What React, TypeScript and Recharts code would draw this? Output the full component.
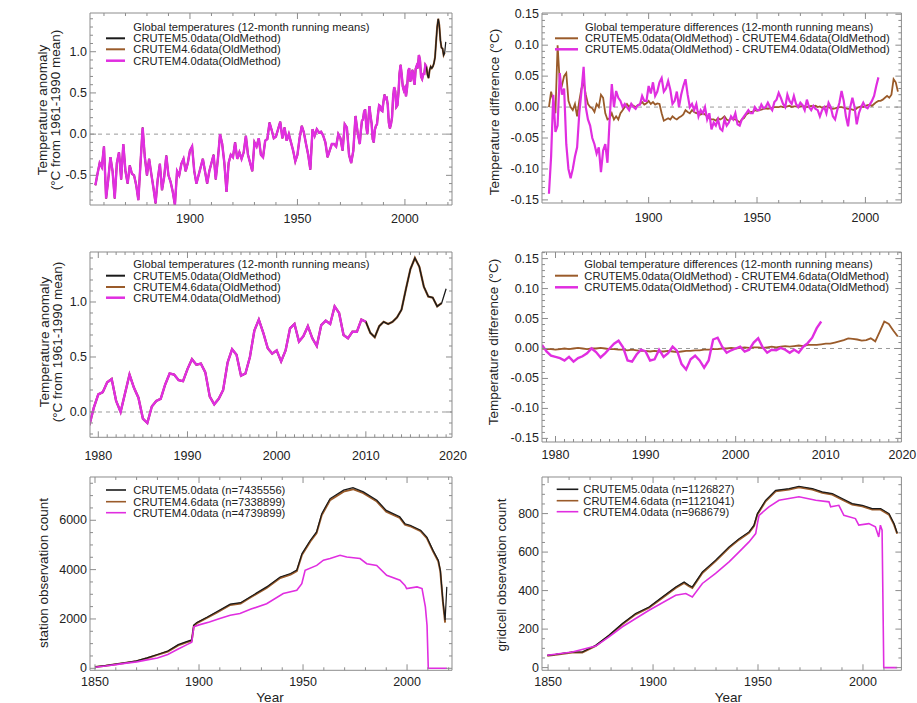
import { LineChart, Line, XAxis, YAxis, ReferenceLine } from "recharts";

const FONT = "'Liberation Sans', Arial, Helvetica, sans-serif";
const FRAME = "#8c8c8c";
const INK = "#222";
const BLACK = "#1a1a1a";
const BROWN = "#9a5b2a";
const MAGENTA = "#e02ee0";

// ---- temperature anomalies (12-month running means, degC vs 1961-1990) ----
// annual readings 1856-1978 (shared by all three datasets at this scale)
const anomEarlyStart = 1856;
const anomEarly = [
  -0.62, -0.48, -0.35, -0.4, -0.15, -0.78, -0.55, -0.28, -0.45, -0.78,
  -0.35, -0.22, -0.55, -0.12, -0.45, -0.6, -0.38, -0.48, -0.5, -0.62,
  -0.8, -0.35, 0.08, -0.28, -0.5, -0.3, -0.48, -0.65, -0.84, -0.55,
  -0.36, -0.68, -0.52, -0.26, -0.5, -0.58, -0.7, -0.86, -0.45, -0.5,
  -0.36, -0.3, -0.45, -0.35, -0.2, -0.15, -0.45, -0.6, -0.5, -0.4,
  -0.3, -0.45, -0.6, -0.45, -0.35, -0.25, -0.55, -0.3, 0.0, -0.12,
  -0.35, -0.7, -0.35, -0.25, -0.28, -0.1, -0.3, -0.22, -0.3, -0.22,
  -0.02, -0.25, -0.35, -0.45, -0.1, -0.15, -0.05, -0.25, -0.28, -0.08,
  -0.06, 0.14, 0.05, -0.05, -0.03, 0.06, 0.15, -0.05, 0.08, -0.08,
  0.0, -0.1, -0.2, -0.33, -0.25, -0.05, 0.1, 0.02, -0.12, -0.25,
  -0.43, 0.06, -0.02, 0.06, 0.02, 0.03, -0.02, -0.1, -0.28, -0.2,
  -0.12, -0.12, -0.15, 0.0, -0.05, -0.2, 0.12, 0.08, -0.25, -0.35,
  -0.2, 0.22, 0.02,
];
// half-year readings 1979.0-2019.0
const anomMidStart = 1979;
const anomMid = [
  -0.12, 0.04, 0.16, 0.18, 0.27, 0.3, 0.1, 0.0, 0.17, 0.34,
  0.22, 0.13, -0.06, -0.1, 0.05, 0.1, 0.12, 0.25, 0.35, 0.34,
  0.29, 0.28, 0.39, 0.48, 0.43, 0.44, 0.36, 0.14, 0.07, 0.12,
  0.2, 0.45, 0.57, 0.52, 0.33, 0.35, 0.5, 0.74, 0.84, 0.72,
  0.58, 0.53, 0.56, 0.46, 0.56, 0.76, 0.8, 0.64, 0.69, 0.78,
  0.67, 0.6, 0.79, 0.83, 0.8, 0.96, 0.9, 0.7, 0.67, 0.73,
  0.73, 0.84, 0.82, 0.72, 0.68, 0.78, 0.82, 0.8, 0.82, 0.86,
  0.93, 1.12, 1.3, 1.4, 1.32, 1.14, 1.05, 1.04, 0.96, 0.99,
  1.12,
];
const anomMidLen40 = 63; // CRUTEM4.0 stops in 2010
const anomMidLen46 = 80;

// ---- differences, annual, top-right panel ----
const diffStart = 1854;
const diff50minus40 = [
  -0.14, -0.08, 0.02, -0.04, -0.03, 0.055, 0.02, 0.03, -0.06, -0.1,
  -0.115, -0.1, -0.08, -0.065, -0.01, 0.025, 0.065, 0.0, -0.02, -0.03,
  -0.05, -0.06, -0.075, -0.065, -0.105, -0.07, -0.06, -0.09, -0.02, 0.037,
  0.0, 0.026, 0.015, 0.01, 0.0, 0.005, 0.0, -0.005, 0.005, 0.0,
  -0.003, 0.003, 0.004, 0.018, 0.01, 0.01, 0.034, 0.022, 0.04, 0.018,
  0.025, 0.04, 0.047, 0.025, 0.03, 0.042, 0.028, 0.005, 0.01, 0.025,
  0.0, 0.02, 0.034, 0.045, 0.02, 0.0, 0.005, -0.005, 0.005, -0.015,
  -0.005, -0.01, 0.0, -0.02, -0.01, -0.036, -0.025, -0.03, -0.02, -0.035,
  -0.038, -0.02, -0.03, -0.025, -0.015, -0.02, -0.01, -0.028, -0.03, -0.02,
  -0.015, -0.01, -0.005, -0.01, -0.01, 0.0, -0.005, -0.005, 0.004, -0.002,
  0.0, 0.007, 0.0, -0.005, 0.008, 0.012, 0.023, 0.015, 0.005, 0.0,
  0.02, 0.01, 0.005, 0.018, 0.005, 0.0, 0.007, 0.003, -0.005, 0.012,
  0.0, -0.005, 0.002, -0.003, -0.005, -0.015, -0.005, 0.0, -0.01, 0.007,
  0.0, -0.015, -0.02, -0.005, 0.007, 0.026, 0.01, -0.015, -0.031, 0.0,
  0.015, 0.0, -0.028, -0.01, 0.0, 0.007, 0.0, -0.002, 0.004, 0.01,
  0.018, 0.034, 0.048,
];
const diff50minus46 = [
  0.0, 0.025, 0.01, -0.01, 0.1, 0.04, 0.035, 0.05, 0.055, 0.01,
  0.0, -0.005, 0.005, -0.015, 0.01, 0.03, 0.04, 0.02, 0.005, 0.0,
  -0.002, -0.008, 0.005, 0.0, 0.02, 0.015, -0.01, -0.02, -0.018, -0.01,
  -0.02, -0.015, -0.02, -0.01, -0.005, 0.0, 0.005, 0.0, 0.005, 0.002,
  0.0, 0.003, 0.005, 0.008, 0.004, 0.006, 0.01, 0.005, 0.008, 0.004,
  0.006, 0.005, -0.01, -0.022, -0.02, -0.018, -0.02, -0.015, -0.018, -0.02,
  -0.017, -0.015, -0.012, -0.005, -0.008, -0.01, -0.005, -0.008, -0.01, -0.008,
  -0.012, -0.01, -0.012, -0.015, -0.018, -0.02, -0.02, -0.022, -0.018, -0.02,
  -0.018, -0.015, -0.02, -0.022, -0.018, -0.02, -0.02, -0.022, -0.025, -0.02,
  -0.018, -0.012, -0.01, -0.008, -0.008, -0.005, -0.006, -0.005, -0.004, -0.003,
  -0.002, -0.003, -0.002, -0.001, 0.0, 0.0, 0.0, 0.001, 0.0, 0.0,
  0.001, 0.002, 0.0, 0.001, 0.001, 0.0, 0.001, 0.002, 0.001, 0.0,
  0.001, 0.002, 0.001, 0.002, 0.0, 0.001, -0.001, 0.0, 0.001, 0.0,
  -0.002, -0.003, -0.002, -0.001, 0.0, 0.0, -0.001, -0.002, -0.003, -0.003,
  -0.004, -0.005, -0.002, 0.0, 0.001, 0.0, 0.002, 0.003, 0.004, 0.002,
  0.005, 0.008, 0.01, 0.01, 0.012, 0.015, 0.018, 0.015, 0.02, 0.045,
  0.04, 0.025,
];

// ---- differences, half-year, middle-right panel ----
const recentStart = 1978.5;
const recentDiff40 = [
  0.006, -0.005, -0.012, -0.014, -0.016, -0.02, -0.014, -0.022, -0.016, -0.013,
  -0.008, 0.0, -0.006, -0.015, -0.008, 0.0, 0.008, 0.013, 0.002, -0.02,
  -0.022, -0.01, -0.002, -0.005, -0.02, -0.018, -0.002, -0.014, -0.008, 0.003,
  -0.004, -0.026, -0.035, -0.018, -0.012, -0.02, -0.032, -0.02, 0.015, 0.018,
  0.003, -0.007, -0.003, 0.0, 0.003, -0.005, -0.002, 0.01, 0.017, 0.002,
  -0.007, -0.002, -0.003, 0.001, -0.002, -0.007, -0.002, -0.007, 0.003, 0.009,
  0.018, 0.034, 0.045,
];
const recentDiff46 = [
  0.0, -0.001, -0.001, -0.002, -0.001, 0.0, -0.001, 0.0, 0.001, 0.0,
  -0.001, 0.0, 0.0, 0.001, 0.0, -0.001, -0.001, -0.002, -0.002, -0.003,
  -0.002, -0.003, -0.004, -0.004, -0.005, -0.004, -0.005, -0.005, -0.004, -0.005,
  -0.006, -0.005, -0.004, -0.004, -0.003, -0.003, -0.002, -0.002, -0.001, -0.001,
  0.0, 0.0, 0.001, 0.0, 0.001, 0.002, 0.001, 0.002, 0.002, 0.001,
  0.002, 0.003, 0.002, 0.003, 0.004, 0.003, 0.004, 0.005, 0.004, 0.006,
  0.006, 0.006, 0.007, 0.008, 0.008, 0.01, 0.012, 0.014, 0.017, 0.016,
  0.015, 0.013, 0.014, 0.017, 0.012, 0.028, 0.045, 0.041, 0.03, 0.02,
];

// ---- station observation counts ----
const stationYears = [
  1850, 1855, 1860, 1865, 1870, 1875, 1880, 1885, 1890, 1894, 1896.5, 1897.5, 1899,
  1904, 1908.5, 1915, 1920, 1924.5, 1932.5, 1939, 1944, 1947, 1949.5, 1953.5, 1956.5,
  1959, 1963, 1969.5, 1974, 1979, 1985.5, 1990, 1996.5, 1999, 2001.5, 2006.5, 2009.5,
  2012.5, 2015, 2016, 2017.2, 2018.3, 2019.1,
];
const station50 = [
  60, 110, 170, 230, 300, 420, 560, 700, 960, 1080, 1150, 1750, 1860,
  2080, 2290, 2600, 2660, 2890, 3300, 3700, 3840, 3980, 4650, 5190, 5530,
  6270, 6880, 7220, 7320, 7150, 6810, 6400, 6140, 5860, 5800, 5600, 5320,
  4780, 4380, 3970, 2760, 1950, 3300,
];
const station46 = [
  55, 105, 165, 225, 290, 410, 545, 680, 930, 1050, 1120, 1720, 1830,
  2050, 2260, 2570, 2630, 2860, 3260, 3660, 3800, 3940, 4600, 5140, 5480,
  6210, 6820, 7160, 7260, 7100, 6760, 6350, 6100, 5820, 5760, 5560, 5280,
  4740, 4340, 3930, 2720, 1850,
];
const station40Years = [
  1850, 1855, 1860, 1865, 1870, 1875, 1880, 1885, 1890, 1894, 1896.5, 1897.5, 1900,
  1905, 1910, 1915, 1919.7, 1925, 1932.5, 1940.5, 1947, 1949.4, 1951, 1956.6, 1959.8,
  1963, 1967.8, 1971, 1977.4, 1980.6, 1985.4, 1990.2, 1996.6, 1999, 1999.8, 2004.8,
  2007.2, 2008.8, 2009.6, 2010.2, 2019.1,
];
const station40 = [
  40, 90, 150, 210, 260, 340, 420, 560, 780, 950, 1060, 1680, 1760,
  1880, 2020, 2150, 2220, 2400, 2620, 3030, 3160, 3430, 3970, 4170, 4380,
  4450, 4580, 4510, 4450, 4240, 4170, 3770, 3570, 3360, 3230, 3300,
  3230, 2490, 1740, 0, 0,
];

// ---- gridcell observation counts ----
const gridYears = [
  1849.6, 1853.6, 1861.5, 1866.3, 1872.7, 1879, 1885.4, 1891.7, 1898.1, 1904.4, 1910.8,
  1914.8, 1917.1, 1918.7, 1923.5, 1929.8, 1936.2, 1941, 1945.7, 1948.1, 1949.7, 1953.6,
  1958.4, 1964.8, 1969.5, 1975.9, 1980.6, 1985.4, 1990.1, 1994.9, 1999.7, 2004.4, 2008.4,
  2012.4, 2014.8, 2016.3,
];
const grid50 = [
  64, 69, 81, 81, 116, 168, 229, 281, 315, 367, 419,
  445, 428, 419, 497, 558, 627, 670, 705, 740, 800, 869,
  921, 930, 942, 930, 913, 904, 878, 852, 843, 826, 826,
  800, 748, 700,
];
const grid46 = [
  62, 67, 79, 79, 113, 165, 225, 277, 311, 362, 414,
  440, 423, 414, 492, 553, 622, 665, 700, 735, 795, 864,
  916, 925, 937, 925, 908, 899, 873, 847, 838, 821, 821,
  795, 743, 695,
];
const grid40Years = [
  1849.6, 1861.5, 1872.7, 1879, 1885.4, 1898.1, 1910.8, 1915.6, 1918.7, 1923.5, 1929.8,
  1936.2, 1941, 1945.7, 1948.9, 1949.7, 1950.5, 1955.2, 1960, 1969.5, 1977.5, 1983.8,
  1984.6, 1988.5, 1990.9, 1996.4, 1998, 2002.8, 2005.9, 2007.5, 2008.3, 2009.1, 2009.9,
  2016.3,
];
const grid40 = [
  64, 81, 112, 160, 212, 298, 376, 385, 367, 437, 489,
  549, 601, 653, 696, 748, 791, 835, 869, 887, 869, 861,
  835, 843, 791, 774, 740, 748, 731, 679, 740, 714, 0,
  0,
];

// ---- tick labels ----
const longYearTicks = [1900, 1950, 2000];
const countYearTicks = [1850, 1900, 1950, 2000];
const recentYearTicks = [1980, 1990, 2000, 2010, 2020];
const anomTicksTop = [-0.5, 0, 0.5, 1.0];
const anomTicksMid = [0, 0.5, 1.0];
const diffTicks = [-0.15, -0.1, -0.05, 0, 0.05, 0.1, 0.15];
const stationTicks = [0, 2000, 4000, 6000];
const gridTicks = [0, 200, 400, 600, 800];

type Pt = { x: number; y: number };
const regular = (start: number, step: number, values: number[]): Pt[] =>
  values.map((y, i) => ({ x: start + i * step, y }));
const paired = (years: number[], values: number[]): Pt[] =>
  values.map((y, i) => ({ x: years[i], y }));

const earlyPts = regular(anomEarlyStart, 1, anomEarly);
const midPts = regular(anomMidStart, 0.5, anomMid);

function minorTicks(domain: number[], step: number) {
  const out: number[] = [];
  const first = Math.ceil(domain[0] / step - 1e-9) * step;
  for (let v = first; v <= domain[1] + 1e-9; v += step) out.push(Math.round(v * 10000) / 10000);
  return out;
}
const near = (list: number[], v: number) => list.some((m) => Math.abs(m - v) < 1e-6);
const inside = (d: number[], v: number) => v >= d[0] - 1e-9 && v <= d[1] + 1e-9;

type Series = { key: string; data: Pt[]; color: string; width: number };
type PanelProps = {
  box: [number, number, number, number];
  xDomain: number[];
  xMajor: number[];
  xMinorStep: number;
  yDomain: number[];
  yMajor: number[];
  yMinorStep: number;
  yFmt: (v: number) => string;
  labelGap: number;
  series: Series[];
  zero?: boolean;
};

const tickStyle = { fontFamily: FONT, fontSize: 12.5, fill: INK };

function Panel({ box, xDomain, xMajor, xMinorStep, yDomain, yMajor, yMinorStep, yFmt, labelGap, series, zero }: PanelProps) {
  const [x0, y0, x1, y1] = box;
  const ML = 60, MR = 30, MT = 8, MB = 30;
  const plotRight = ML + (x1 - x0);
  const xMinor = minorTicks(xDomain, xMinorStep);
  const yMinor = minorTicks(yDomain, yMinorStep);
  const xAll = Array.from(new Set([...xMinor, ...xMajor])).sort((a, b) => a - b);
  const yAll = Array.from(new Set([...yMinor, ...yMajor.filter((v) => inside(yDomain, v))])).sort((a, b) => a - b);

  const bottomTick = (p: any) => {
    const v = p.payload.value;
    const major = near(xMajor, v);
    const within = inside(xDomain, v);
    // a year label just past the frame is pulled back to the frame edge
    const tx = within ? p.x : Math.min(p.x, plotRight + 1);
    return (
      <g>
        {within && <line x1={p.x} x2={p.x} y1={p.y} y2={p.y - (major ? 6 : 3)} stroke={FRAME} />}
        {major && (
          <text x={tx} y={p.y + labelGap} textAnchor="middle" dominantBaseline="central" style={tickStyle}>
            {v}
          </text>
        )}
      </g>
    );
  };
  const topTick = (p: any) => {
    const major = near(xMajor, p.payload.value);
    return <line x1={p.x} x2={p.x} y1={p.y} y2={p.y + (major ? 6 : 3)} stroke={FRAME} />;
  };
  const leftTick = (p: any) => {
    const v = p.payload.value;
    const major = near(yMajor, v);
    return (
      <g>
        <line x1={p.x} x2={p.x + (major ? 6 : 3)} y1={p.y} y2={p.y} stroke={FRAME} />
        {major && (
          <text x={p.x - 3} y={p.y} textAnchor="end" dominantBaseline="central" style={tickStyle}>
            {yFmt(v)}
          </text>
        )}
      </g>
    );
  };
  const rightTick = (p: any) => {
    const major = near(yMajor, p.payload.value);
    return <line x1={p.x} x2={p.x - (major ? 6 : 3)} y1={p.y} y2={p.y} stroke={FRAME} />;
  };

  // axes are 1px thick so that recharts draws them; margins are reduced by the same amount
  return (
    <div style={{ position: "absolute", left: x0 - ML, top: y0 - MT }}>
      <LineChart
        width={x1 - x0 + ML + MR}
        height={y1 - y0 + MT + MB}
        margin={{ top: MT - 1, right: MR - 1, bottom: MB - 1, left: ML - 1 }}
      >
        <XAxis
          dataKey="x"
          type="number"
          domain={xDomain}
          allowDataOverflow
          ticks={xAll.filter((v) => inside(xDomain, v) || near(xMajor, v))}
          interval={0}
          height={1}
          tickSize={0}
          tickMargin={0}
          tickLine={false}
          axisLine={{ stroke: FRAME }}
          tick={bottomTick}
        />
        <XAxis
          xAxisId="top"
          orientation="top"
          dataKey="x"
          type="number"
          domain={xDomain}
          allowDataOverflow
          ticks={xAll.filter((v) => inside(xDomain, v))}
          interval={0}
          height={1}
          tickSize={0}
          tickMargin={0}
          tickLine={false}
          axisLine={{ stroke: FRAME }}
          tick={topTick}
        />
        <YAxis
          type="number"
          domain={yDomain}
          allowDataOverflow
          ticks={yAll}
          interval={0}
          width={1}
          tickSize={0}
          tickMargin={0}
          tickLine={false}
          axisLine={{ stroke: FRAME }}
          tick={leftTick}
        />
        <YAxis
          yAxisId="right"
          orientation="right"
          type="number"
          domain={yDomain}
          allowDataOverflow
          ticks={yAll}
          interval={0}
          width={1}
          tickSize={0}
          tickMargin={0}
          tickLine={false}
          axisLine={{ stroke: FRAME }}
          tick={rightTick}
        />
        {zero && <ReferenceLine y={0} stroke="#9a9a9a" strokeDasharray="4 4" />}
        {series.map((s) => (
          <Line
            key={s.key}
            data={s.data}
            dataKey="y"
            type="linear"
            stroke={s.color}
            strokeWidth={s.width}
            dot={false}
            activeDot={false}
            isAnimationActive={false}
          />
        ))}
      </LineChart>
    </div>
  );
}

function Legend({ x, lineX, y, rows, title }: { x: number; lineX: [number, number]; y: number[]; rows: { label: string; color: string; width: number }[]; title?: string }) {
  const rowY = title ? y.slice(1) : y;
  return (
    <g style={{ fontFamily: FONT, fontSize: 11.2, fill: INK }}>
      {title && (
        <text x={x} y={y[0]} dominantBaseline="central">
          {title}
        </text>
      )}
      {rows.map((r, i) => (
        <g key={r.label}>
          <line x1={lineX[0]} x2={lineX[1]} y1={rowY[i]} y2={rowY[i]} stroke={r.color} strokeWidth={r.width} />
          <text x={x} y={rowY[i]} dominantBaseline="central">
            {r.label}
          </text>
        </g>
      ))}
    </g>
  );
}

function VLabel({ x, y, text }: { x: number; y: number; text: string }) {
  return (
    <text
      transform={`translate(${x},${y}) rotate(-90)`}
      textAnchor="middle"
      dominantBaseline="central"
      style={{ fontFamily: FONT, fontSize: 13.5, fill: INK }}
    >
      {text}
    </text>
  );
}

const f1 = (v: number) => v.toFixed(1);
const f2 = (v: number) => v.toFixed(2);
const f0 = (v: number) => String(Math.round(v));

export default function App() {
  const temp3 = [
    { label: "CRUTEM5.0data(OldMethod)", color: BLACK, width: 2 },
    { label: "CRUTEM4.6data(OldMethod)", color: BROWN, width: 2 },
    { label: "CRUTEM4.0data(OldMethod)", color: MAGENTA, width: 2.5 },
  ];
  const diff2 = [
    { label: "CRUTEM5.0data(OldMethod) - CRUTEM4.6data(OldMethod)", color: BROWN, width: 2 },
    { label: "CRUTEM5.0data(OldMethod) - CRUTEM4.0data(OldMethod)", color: MAGENTA, width: 2.5 },
  ];
  return (
    <div style={{ position: "absolute", left: 0, top: 0, width: 917, height: 703, background: "#fff", overflow: "hidden" }}>
      <Panel
        box={[90, 13, 452, 205]}
        xDomain={[1853.5, 2021.9]}
        xMajor={longYearTicks}
        xMinorStep={10}
        yDomain={[-0.86, 1.47]}
        yMajor={anomTicksTop}
        yMinorStep={0.1}
        yFmt={f1}
        labelGap={13.5}
        zero
        series={[
          { key: "c46", data: [...earlyPts, ...midPts.slice(0, anomMidLen46)], color: BROWN, width: 2 },
          { key: "c50", data: [...earlyPts, ...midPts], color: BLACK, width: 1.2 },
          { key: "c40", data: [...earlyPts, ...midPts.slice(0, anomMidLen40)], color: MAGENTA, width: 2.4 },
        ]}
      />
      <Panel
        box={[542.3, 13, 901.7, 203]}
        xDomain={[1850.8, 2016.6]}
        xMajor={longYearTicks}
        xMinorStep={10}
        yDomain={[-0.155, 0.152]}
        yMajor={diffTicks}
        yMinorStep={0.01}
        yFmt={f2}
        labelGap={15}
        zero
        series={[
          { key: "d46", data: regular(diffStart, 1, diff50minus46), color: BROWN, width: 1.8 },
          { key: "d40", data: regular(diffStart, 1, diff50minus40), color: MAGENTA, width: 2.2 },
        ]}
      />
      <Panel
        box={[90, 251.7, 452, 437]}
        xDomain={[1979.07, 2019.66]}
        xMajor={recentYearTicks}
        xMinorStep={1}
        yDomain={[-0.23, 1.4545]}
        yMajor={anomTicksMid}
        yMinorStep={0.1}
        yFmt={f1}
        labelGap={19}
        zero
        series={[
          { key: "m46", data: midPts.slice(0, anomMidLen46), color: BROWN, width: 2.2 },
          { key: "m50", data: midPts, color: BLACK, width: 1.3 },
          { key: "m40", data: midPts.slice(0, anomMidLen40), color: MAGENTA, width: 2.4 },
        ]}
      />
      <Panel
        box={[542.3, 251.7, 901.7, 441.7]}
        xDomain={[1978.5, 2018.4]}
        xMajor={recentYearTicks}
        xMinorStep={1}
        yDomain={[-0.156, 0.161]}
        yMajor={diffTicks}
        yMinorStep={0.01}
        yFmt={f2}
        labelGap={13.5}
        zero
        series={[
          { key: "r46", data: regular(recentStart, 0.5, recentDiff46), color: BROWN, width: 1.8 },
          { key: "r40", data: regular(recentStart, 0.5, recentDiff40), color: MAGENTA, width: 2.4 },
        ]}
      />
      <Panel
        box={[90, 476.7, 452, 670]}
        xDomain={[1847.6, 2021.6]}
        xMajor={countYearTicks}
        xMinorStep={10}
        yDomain={[-81, 7754]}
        yMajor={stationTicks}
        yMinorStep={500}
        yFmt={f0}
        labelGap={11.7}
        series={[
          { key: "s46", data: paired(stationYears, station46), color: BROWN, width: 2 },
          { key: "s50", data: paired(stationYears, station50), color: BLACK, width: 1.2 },
          { key: "s40", data: paired(station40Years, station40), color: MAGENTA, width: 1.6 },
        ]}
      />
      <Panel
        box={[542.3, 476.7, 901.7, 670]}
        xDomain={[1847.1, 2018.3]}
        xMajor={countYearTicks}
        xMinorStep={10}
        yDomain={[-14, 990]}
        yMajor={gridTicks}
        yMinorStep={50}
        yFmt={f0}
        labelGap={11.7}
        series={[
          { key: "g46", data: paired(gridYears, grid46), color: BROWN, width: 2 },
          { key: "g50", data: paired(gridYears, grid50), color: BLACK, width: 1.2 },
          { key: "g40", data: paired(grid40Years, grid40), color: MAGENTA, width: 1.6 },
        ]}
      />

      <svg width={917} height={703} style={{ position: "absolute", left: 0, top: 0, pointerEvents: "none" }}>
        <Legend x={133.3} lineX={[106, 125]} y={[26.7, 38.3, 49.3, 60.7]} title="Global temperatures (12-month running means)" rows={temp3} />
        <Legend x={585} lineX={[555, 578]} y={[26.7, 38.3, 49.3]} title="Global temperature differences (12-month running means)" rows={diff2} />
        <Legend x={133.3} lineX={[106, 125]} y={[264.3, 275.7, 287, 297.7]} title="Global temperatures (12-month running means)" rows={temp3} />
        <Legend x={584.3} lineX={[555, 578]} y={[264.3, 275.7, 287.3]} title="Global temperature differences (12-month running means)" rows={diff2} />
        <Legend
          x={133.3}
          lineX={[106, 126]}
          y={[490, 501.7, 512.7]}
          rows={[
            { label: "CRUTEM5.0data (n=7435556)", color: BLACK, width: 1.6 },
            { label: "CRUTEM4.6data (n=7338899)", color: BROWN, width: 1.6 },
            { label: "CRUTEM4.0data (n=4739899)", color: MAGENTA, width: 1.6 },
          ]}
        />
        <Legend
          x={583.3}
          lineX={[556.7, 578.3]}
          y={[489.3, 500.7, 511.7]}
          rows={[
            { label: "CRUTEM5.0data (n=1126827)", color: BLACK, width: 1.6 },
            { label: "CRUTEM4.6data (n=1121041)", color: BROWN, width: 1.6 },
            { label: "CRUTEM4.0data (n=968679)", color: MAGENTA, width: 1.6 },
          ]}
        />
        <VLabel x={42} y={110} text="Temperature anomaly" />
        <VLabel x={55} y={110} text="(°C from 1961-1990 mean)" />
        <VLabel x={494} y={112} text="Temperature difference (°C)" />
        <VLabel x={44} y={342} text="Temperature anomaly" />
        <VLabel x={57} y={342} text="(°C from 1961-1990 mean)" />
        <VLabel x={493} y={342} text="Temperature difference (°C)" />
        <VLabel x={43.3} y={573} text="station observation count" />
        <VLabel x={501.7} y={575} text="gridcell observation count" />
        <text x={270} y={697} textAnchor="middle" dominantBaseline="central" style={{ fontFamily: FONT, fontSize: 13.5, fill: INK }}>
          Year
        </text>
        <text x={728.3} y={697} textAnchor="middle" dominantBaseline="central" style={{ fontFamily: FONT, fontSize: 13.5, fill: INK }}>
          Year
        </text>
      </svg>
    </div>
  );
}
